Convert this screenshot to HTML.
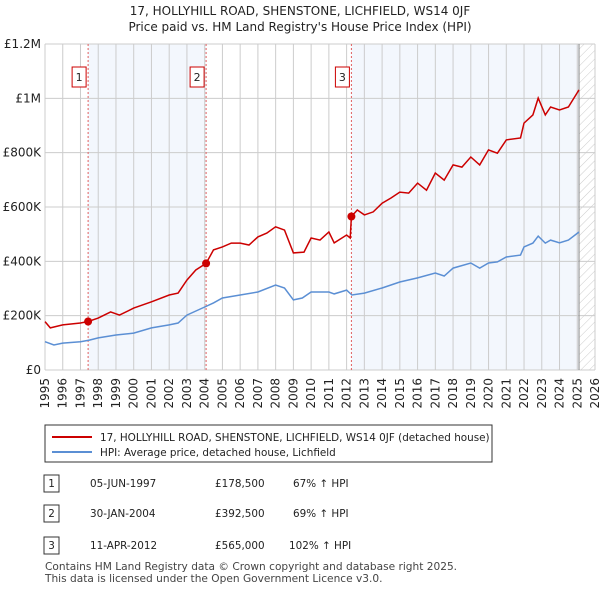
<!DOCTYPE html>
<html><head><meta charset="utf-8"><style>
body{margin:0;background:#fff;font-family:"Liberation Sans","DejaVu Sans",sans-serif;}
svg text{font-family:"DejaVu Sans","Liberation Sans",sans-serif;}
</style></head><body>
<svg id="c" width="600" height="590" viewBox="0 0 600 590" xmlns="http://www.w3.org/2000/svg">
<text x="300" y="15" text-anchor="middle" font-size="12" fill="#222">17, HOLLYHILL ROAD, SHENSTONE, LICHFIELD, WS14 0JF</text>
<text x="300" y="31" text-anchor="middle" font-size="12" fill="#222">Price paid vs. HM Land Registry's House Price Index (HPI)</text>
<defs><pattern id="hatch" width="6" height="6" patternUnits="userSpaceOnUse" patternTransform="rotate(45)"><line x1="0" y1="0" x2="0" y2="6" stroke="#ccc" stroke-width="1"/></pattern></defs>
<g id="plot"></g>
<g>
<rect x="45" y="425" width="447" height="37" fill="#fff" stroke="#333"/>
<line x1="52" y1="437" x2="92" y2="437" stroke="#cc0000" stroke-width="2"/>
<text x="100" y="441" font-size="10.4" fill="#222">17, HOLLYHILL ROAD, SHENSTONE, LICHFIELD, WS14 0JF (detached house)</text>
<line x1="52" y1="452" x2="92" y2="452" stroke="#5b8fd4" stroke-width="2"/>
<text x="100" y="456" font-size="10.4" fill="#222">HPI: Average price, detached house, Lichfield</text>
</g>
<g font-size="10.4" fill="#222">
<rect x="44" y="475" width="15" height="17" fill="#fff" stroke="#333"/><text x="51.5" y="487" text-anchor="middle">1</text>
<text x="90" y="487">05-JUN-1997</text><text x="215" y="487">£178,500</text><text x="293" y="487">67% ↑ HPI</text>
<rect x="44" y="505" width="15" height="17" fill="#fff" stroke="#333"/><text x="51.5" y="517" text-anchor="middle">2</text>
<text x="90" y="517">30-JAN-2004</text><text x="215" y="517">£392,500</text><text x="293" y="517">69% ↑ HPI</text>
<rect x="44" y="537" width="15" height="17" fill="#fff" stroke="#333"/><text x="51.5" y="549" text-anchor="middle">3</text>
<text x="90" y="549">11-APR-2012</text><text x="215" y="549">£565,000</text><text x="289" y="549">102% ↑ HPI</text>
</g>
<text x="45" y="570" font-size="10.6" fill="#444">Contains HM Land Registry data © Crown copyright and database right 2025.</text>
<text x="45" y="582" font-size="10.6" fill="#444">This data is licensed under the Open Government Licence v3.0.</text>
</svg>
<script>
const yTicks=[0,200000,400000,600000,800000,1000000,1200000];
const yTickLabels=["£0","£200K","£400K","£600K","£800K","£1M","£1.2M"];
const xYears=[1995,1996,1997,1998,1999,2000,2001,2002,2003,2004,2005,2006,2007,2008,2009,2010,2011,2012,2013,2014,2015,2016,2017,2018,2019,2020,2021,2022,2023,2024,2025,2026];
const saleDates=[1997.43,2004.08,2012.27];
const salePrices=[178500,392500,565000];
const saleLabels=["1","2","3"];
const hpiT=[1995,1995.5,1996,1997,1997.5,1998,1999,2000,2001,2002,2002.5,2003,2004,2004.5,2005,2006,2007,2008,2008.5,2009,2009.5,2010,2011,2011.3,2012,2012.3,2013,2014,2015,2016,2017,2017.5,2018,2019,2019.5,2020,2020.5,2021,2021.8,2022,2022.5,2022.8,2023.2,2023.5,2024,2024.5,2025.1];
const hpiV=[104,92,99,104,110,118,129,136,155,166,173,202,232,247,265,276,287,313,302,258,265,287,287,280,294,276,283,302,324,339,357,346,375,394,375,394,398,416,423,453,467,493,467,478,468,478,508];
const propT=[1995,1995.3,1996,1997,1997.43,1998,1998.7,1999.2,2000,2001,2002,2002.5,2003,2003.5,2004.08,2004.5,2005,2005.5,2006,2006.5,2007,2007.5,2008,2008.5,2009,2009.6,2010,2010.5,2011,2011.3,2012,2012.2,2012.27,2012.6,2013,2013.5,2014,2014.5,2015,2015.5,2016,2016.5,2017,2017.5,2018,2018.5,2019,2019.5,2020,2020.5,2021,2021.8,2022,2022.5,2022.8,2023.2,2023.5,2024,2024.5,2025.1];
const propV=[178,155,166,173,178.5,191,214,202,228,251,276,283,331,368,392.5,442,453,467,467,460,490,504,527,515,431,434,486,478,508,468,497,486,565,589,571,582,614,633,655,651,688,662,725,699,755,747,784,755,810,798,847,854,909,939,1001,939,968,957,968,1031];
const X0=45,X1=595,Y0=370,Y1=44;
const xs=t=>X0+(t-1995)/(2026-1995)*(X1-X0);
const ys=v=>Y0-v/1200000*(Y0-Y1);
const NS="http://www.w3.org/2000/svg";
const g=document.getElementById('plot');
function mk(tag,attrs){const e=document.createElementNS(NS,tag);for(const k in attrs)e.setAttribute(k,attrs[k]);g.appendChild(e);return e;}
let r=mk('rect',{x:xs(saleDates[0]),y:Y1,width:xs(saleDates[1])-xs(saleDates[0]),height:Y0-Y1,fill:'#eef3fc',opacity:0.7});


r=mk('rect',{x:xs(saleDates[2]),y:Y1,width:xs(2025.1)-xs(saleDates[2]),height:Y0-Y1,fill:'#eef3fc',opacity:0.7});


r=mk('rect',{x:xs(2025.1),y:Y1,width:X1-xs(2025.1),height:Y0-Y1,fill:'url(#hatch)'});


xYears.forEach(y=>{const l=mk('line',{x1:xs(y),x2:xs(y),y1:Y1,y2:Y0,stroke:'#ccc','stroke-width':1});


const t=mk('text',{x:0,y:0,'font-size':12,fill:'#222','text-anchor':'end',transform:`translate(${xs(y)+4},${Y0+8}) rotate(-90)`});t.textContent=y;

});
yTicks.forEach((v,i)=>{const l=mk('line',{x1:X0,x2:X1,y1:ys(v),y2:ys(v),stroke:'#ccc','stroke-width':1});


const t=mk('text',{x:X0-4,y:ys(v)+4,'font-size':12,fill:'#222','text-anchor':'end'});t.textContent=yTickLabels[i];

});
let ed=mk('line',{x1:xs(2025.1),x2:xs(2025.1),y1:Y1,y2:Y0,stroke:'#888','stroke-width':1});


saleDates.forEach((d,i)=>{const l=mk('line',{x1:xs(d),x2:xs(d),y1:Y1,y2:Y0,stroke:'#e06060','stroke-width':1,'stroke-dasharray':'2,2'});


const b=mk('rect',{x:xs(d)-16,y:67,width:14,height:20,fill:'#fff',stroke:'#cc0000'});


const t=mk('text',{x:xs(d)-9,y:81,'font-size':11,fill:'#222','text-anchor':'middle'});t.textContent=saleLabels[i];

});
const hp=mk('path',{d:hpiT.map((t,i)=>(i?'L':'M')+xs(t).toFixed(1)+','+ys(hpiV[i]*1000).toFixed(1)).join(''),fill:'none',stroke:'#5b8fd4','stroke-width':1.5});


const pp=mk('path',{d:propT.map((t,i)=>(i?'L':'M')+xs(t).toFixed(1)+','+ys(propV[i]*1000).toFixed(1)).join(''),fill:'none',stroke:'#cc0000','stroke-width':1.5});


saleDates.forEach((d,i)=>{const c=mk('circle',{cx:xs(d),cy:ys(salePrices[i]),r:4,fill:'#cc0000'});

});
</script>
</body></html>
